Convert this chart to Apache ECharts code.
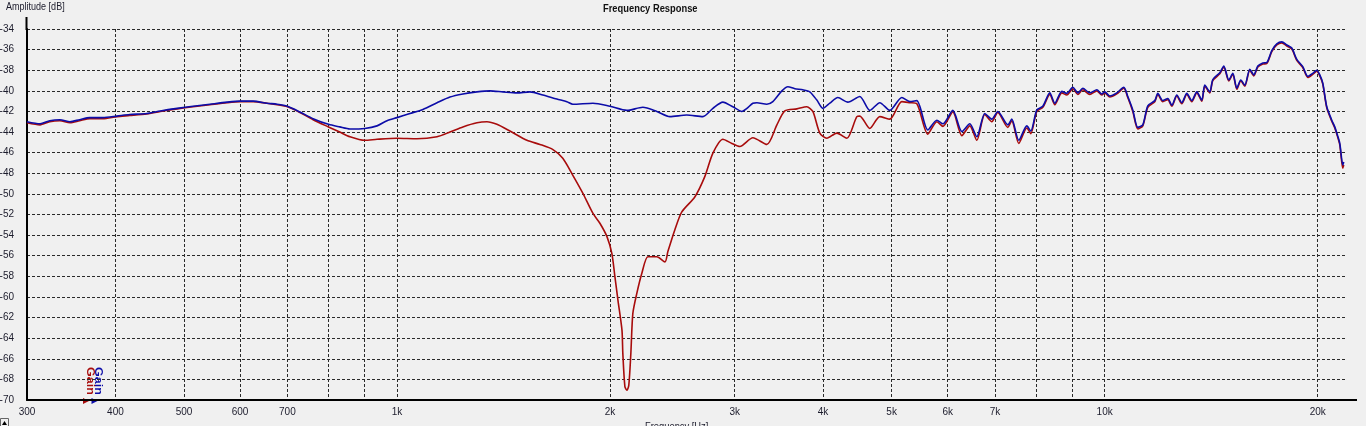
<!DOCTYPE html>
<html><head><meta charset="utf-8">
<script src="https://cdn.jsdelivr.net/npm/echarts@6/dist/echarts.min.js"></script>
<style>html,body{margin:0;padding:0;background:#f0f0f0;overflow:hidden}#c{width:1366px;height:426px}</style>
</head><body><div id="c"></div>
<script>
const seriesNames = ['Gain', 'Gain'];
const seriesColors = ['#a80c0c', '#0c0ca8'];

const redFreq = [300,313,323,334,345,356,368,384,402,419,443,463,489,515,544,575,600,626,655,677,700,729,761,800,830,858,900,937,1000,1067,1139,1188,1239,1297,1340,1384,1444,1526,1592,1661,1715,1772,1831,1892,1935,1980,2012,2032,2052,2079,2085,2099,2113,2126,2140,2154,2182,2218,2262,2329,2391,2414,2469,2526,2635,2723,2795,2887,2973,3051,3183,3331,3442,3532,3673,3794,3869,3958,4049,4183,4322,4465,4508,4657,4811,4970,5168,5305,5427,5624,5792,5909,6101,6283,6448,6597,6770,6926,7063,7296,7391,7562,7762,7863,8018,8177,8365,8502,8698,8840,9015,9163,9313,9527,9747,9907,10004,10168,10402,10642,10781,10958,11138,11321,11506,11771,11887,12082,12280,12441,12645,12852,13063,13277,13495,13717,13851,14078,14217,14544,14735,14976,15172,15371,15572,15776,16035,16245,16458,16728,16947,17224,17507,17794,18086,18383,18684,19052,19365,19682,19940,20136,20333,20599,20937,21142,21280,21489,21700,21771];
const redDb = [-43.1,-43.3,-43.0,-42.9,-43.1,-42.9,-42.7,-42.7,-42.5,-42.4,-42.25,-42.0,-41.75,-41.55,-41.35,-41.15,-41.05,-41.05,-41.2,-41.35,-41.55,-42.1,-42.8,-43.5,-44.0,-44.45,-44.8,-44.7,-44.6,-44.65,-44.45,-44.0,-43.5,-43.1,-43.0,-43.25,-43.9,-44.8,-45.2,-45.7,-46.55,-48.2,-49.95,-51.9,-52.85,-54.15,-55.8,-58.05,-60.3,-63.2,-65.5,-68.7,-69.05,-68.55,-65.5,-61.6,-59.65,-57.7,-56.1,-56.1,-56.6,-55.6,-53.5,-51.75,-50.3,-48.3,-46.05,-44.7,-45.1,-45.4,-44.55,-45.2,-43.3,-41.95,-41.75,-41.55,-42.0,-44.1,-44.6,-44.1,-44.6,-42.5,-42.45,-43.65,-42.5,-42.75,-41.05,-41.15,-41.25,-44.2,-43.0,-43.45,-42.05,-44.35,-43.4,-44.8,-42.3,-43.0,-42.1,-43.55,-42.9,-45.1,-43.6,-44.15,-42.0,-41.6,-40.35,-41.35,-40.2,-40.4,-39.8,-40.35,-39.9,-40.35,-40.0,-40.4,-40.2,-40.6,-40.3,-39.75,-40.65,-42.0,-43.7,-43.4,-41.6,-41.05,-40.35,-41.05,-40.85,-41.5,-40.5,-41.25,-40.35,-41.05,-40.2,-41.0,-39.55,-40.2,-39.0,-38.35,-37.7,-39.05,-38.4,-39.85,-39.05,-39.55,-38.0,-38.55,-37.7,-37.4,-37.35,-36.2,-35.55,-35.35,-35.65,-35.95,-37.05,-37.75,-38.7,-38.4,-38.1,-38.55,-39.35,-41.65,-42.95,-43.6,-44.2,-45.25,-47.5,-47.2];

const blueFreq = [300,313,323,334,345,356,368,384,402,419,443,463,489,515,544,575,600,626,655,677,700,729,761,800,830,858,900,937,968,1000,1043,1088,1139,1188,1239,1297,1353,1411,1477,1541,1607,1682,1738,1772,1892,1999,2113,2225,2329,2430,2567,2705,2795,2887,2982,3071,3122,3183,3225,3331,3397,3498,3567,3649,3745,3831,3920,3997,4089,4197,4336,4508,4657,4811,4970,5168,5305,5427,5624,5792,5909,6101,6283,6448,6597,6770,6926,7063,7296,7391,7562,7762,7863,8018,8177,8365,8502,8698,8840,9015,9163,9313,9527,9747,9907,10004,10168,10402,10642,10781,10958,11138,11321,11506,11771,11887,12082,12280,12441,12645,12852,13063,13277,13495,13717,13851,14078,14217,14544,14735,14976,15172,15371,15572,15776,16035,16245,16458,16728,16947,17224,17507,17794,18086,18383,18684,19052,19365,19682,19940,20136,20333,20599,20937,21142,21280,21489,21700,21771];
const blueDb = [-43.0,-43.2,-42.9,-42.8,-43.0,-42.8,-42.6,-42.6,-42.45,-42.3,-42.2,-41.95,-41.7,-41.5,-41.3,-41.1,-41.0,-41.0,-41.2,-41.3,-41.5,-42.05,-42.7,-43.25,-43.5,-43.7,-43.65,-43.4,-42.9,-42.6,-42.2,-41.8,-41.15,-40.6,-40.3,-40.1,-40.0,-40.1,-40.2,-40.1,-40.4,-40.8,-41.05,-41.3,-41.2,-41.5,-41.9,-41.6,-42.0,-42.5,-42.35,-42.5,-41.7,-41.1,-41.55,-42.0,-41.7,-41.2,-41.15,-41.3,-41.05,-40.0,-39.6,-39.8,-39.9,-40.1,-40.9,-41.7,-41.2,-40.65,-41.1,-40.55,-41.9,-41.15,-41.9,-40.65,-41.05,-40.95,-43.8,-42.85,-43.2,-41.9,-43.95,-43.2,-44.45,-42.2,-42.75,-42.0,-43.3,-42.75,-44.8,-43.4,-43.9,-41.85,-41.5,-40.2,-41.2,-40.05,-40.25,-39.65,-40.2,-39.75,-40.2,-39.9,-40.3,-40.1,-40.5,-40.2,-39.65,-40.55,-41.85,-43.55,-43.3,-41.45,-40.95,-40.25,-40.95,-40.75,-41.4,-40.4,-41.15,-40.25,-40.95,-40.1,-40.9,-39.45,-40.1,-38.9,-38.25,-37.6,-38.95,-38.3,-39.75,-38.95,-39.45,-37.9,-38.45,-37.6,-37.3,-37.25,-36.1,-35.45,-35.25,-35.55,-35.85,-36.95,-37.65,-38.6,-38.3,-38.0,-38.45,-39.25,-41.55,-42.85,-43.5,-44.1,-45.1,-47.2,-46.9];

const xLabelValues = [300,400,500,600,700,1000,2000,3000,4000,5000,6000,7000,10000,20000];
const xGridValues = [300,400,500,600,700,800,900,1000,2000,3000,4000,5000,6000,7000,8000,9000,10000,20000];
const yMin = -70, yMax = -34, yStep = 2;
const xMin = 300, xMax = 22000;

const FONT = "'Liberation Sans',Arial,sans-serif";
const zip = (a, b) => a.map((v, i) => [v, b[i]]);
const fmtHz = v => { const r = Math.round(v); return r >= 1000 ? (Math.round(r / 100) / 10) + 'k' : String(r); };

const chart = echarts.init(document.getElementById('c'), null, {renderer: 'canvas'});
const gridLine = {show: true, lineStyle: {color: '#2a2a2a', width: 1, type: [3, 2]}};

chart.setOption({
  backgroundColor: '#f0f0f0',
  animation: false,
  grid: {left: 27, top: 29, right: 19, bottom: 26, containLabel: false, outerBoundsMode: 'none'},
  xAxis: {
    type: 'log', logBase: 10, min: xMin, max: xMax,
    axisLine: {show: true, lineStyle: {color: '#000', width: 2}},
    axisTick: {show: false, customValues: xGridValues},
    splitLine: gridLine,
    minorSplitLine: {show: false},
    axisLabel: {customValues: xLabelValues, formatter: fmtHz, color: '#1c1c2c', fontFamily: FONT, fontSize: 10, margin: 7}
  },
  yAxis: {
    type: 'value', min: yMin, max: yMax, interval: yStep,
    axisLine: {show: true, lineStyle: {color: '#000', width: 2}},
    axisTick: {show: false},
    splitLine: gridLine,
    axisLabel: {color: '#1c1c2c', fontFamily: FONT, fontSize: 10, margin: 13}
  },
  series: [
    {name: seriesNames[0], type: 'line', data: zip(redFreq, redDb), showSymbol: false, smooth: 0.25,
     lineStyle: {color: seriesColors[0], width: 1.6}, itemStyle: {color: seriesColors[0]}, z: 3},
    {name: seriesNames[1], type: 'line', data: zip(blueFreq, blueDb), showSymbol: false, smooth: 0.25,
     lineStyle: {color: seriesColors[1], width: 1.6}, itemStyle: {color: seriesColors[1]}, z: 4}
  ],
  graphic: [
    {type: 'text', x: 6, y: 1, scaleX: 0.82, style: {text: 'Amplitude [dB]', fill: '#1c1c2c', font: '11px ' + FONT}},
    {type: 'text', x: 603, y: 3, scaleX: 0.85, style: {text: 'Frequency Response', fill: '#111', font: 'bold 11px ' + FONT}},
    {type: 'text', x: 645, y: 421, scaleX: 0.85, style: {text: 'Frequency [Hz]', fill: '#1c1c2c', font: '11px ' + FONT}},
    {type: 'line', shape: {x1: 26.5, y1: 17, x2: 26.5, y2: 30}, style: {stroke: '#000', lineWidth: 2}},
    {type: 'line', shape: {x1: 1346, y1: 400, x2: 1357, y2: 400}, style: {stroke: '#000', lineWidth: 2}},
    {type: 'text', x: 85, y: 367, rotation: -Math.PI / 2, scaleX: 1.25, style: {text: seriesNames[0], fill: seriesColors[0], font: 'bold 10px ' + FONT, textVerticalAlign: 'bottom'}},
    {type: 'text', x: 92.5, y: 367, rotation: -Math.PI / 2, scaleX: 1.25, style: {text: seriesNames[1], fill: seriesColors[1], font: 'bold 10px ' + FONT, textVerticalAlign: 'bottom'}},
    {type: 'polygon', shape: {points: [[83, 398], [89, 401], [83, 404]]}, style: {fill: seriesColors[0]}},
    {type: 'polygon', shape: {points: [[91.5, 398], [97.5, 401], [91.5, 404]]}, style: {fill: seriesColors[1]}},
    {type: 'rect', shape: {x: 0.5, y: 418.5, width: 8, height: 8}, style: {fill: '#f0f0f0', stroke: '#666', lineWidth: 1}},
    {type: 'polygon', shape: {points: [[2, 425], [7, 425], [4.5, 421]]}, style: {fill: '#000'}}
  ]
});
</script>
</body></html>
